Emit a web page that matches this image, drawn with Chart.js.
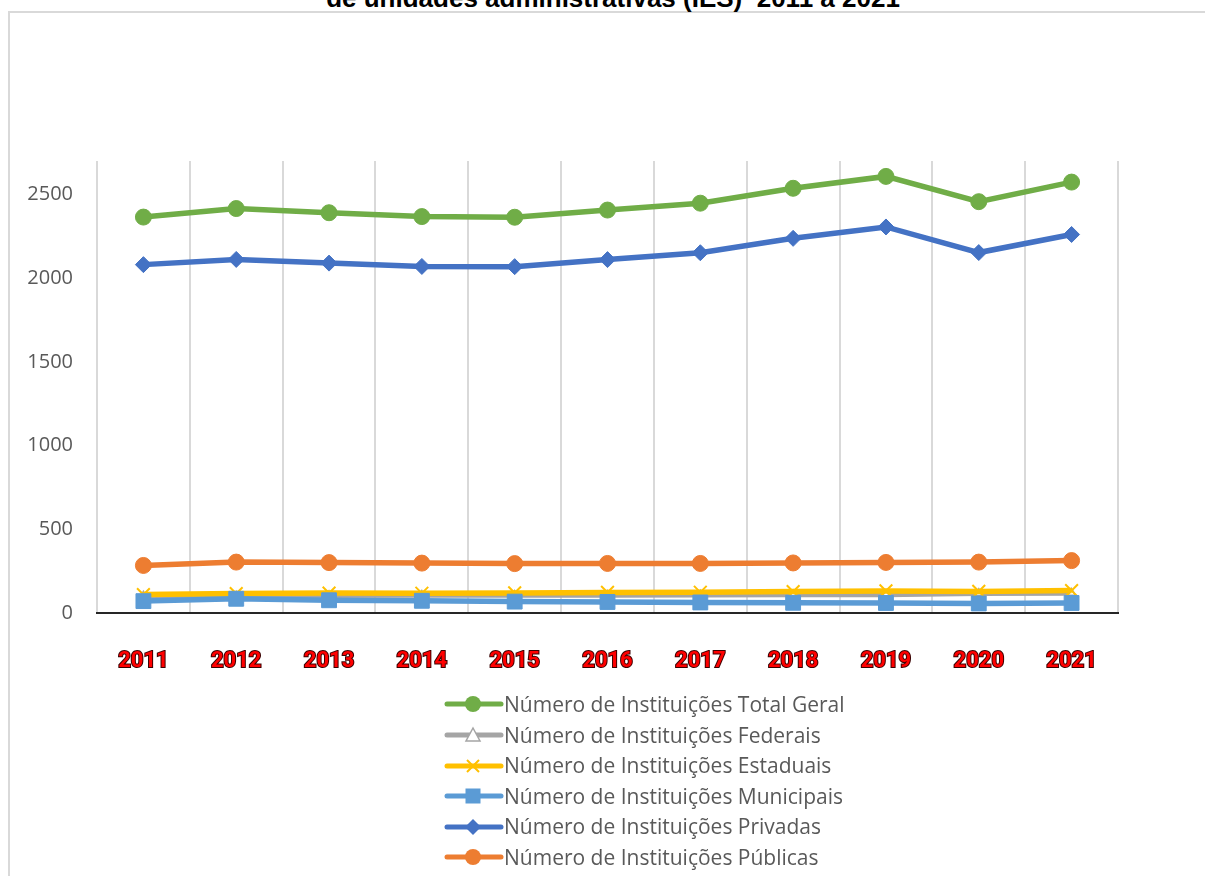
<!DOCTYPE html>
<html>
<head>
    <title>Instituições de Educação Superior 2011 a 2021</title>
    <script src="https://cdn.jsdelivr.net/npm/chart.js"></script>
</head>
<body style="margin: 0; background-color: #ffffff; overflow: hidden;">
    <div style="position: absolute; left: 8px; top: 11px; width: 1300px; height: 900px; border-left: 2px solid #d9d9d9; border-top: 2px solid #d9d9d9;"></div>
    <div id="title" style="position: absolute; left: 0; width: 1226px; top: -15px; text-align: center; font: bold 26px 'Liberation Sans', Arial, sans-serif; line-height: 26px; color: #000000; white-space: pre;">de unidades administrativas (IES)  2011 a 2021</div>
    <div style="position: absolute; left: 0; top: 0; width: 1205px; height: 700px;">
        <canvas id="myChart"></canvas>
    </div>
    <div id="legend" style="position: absolute; left: 444px; top: 687px; font-family: 'Open Sans', sans-serif; font-size: 21px; color: #595959;"></div>

    <script>
        // Values (número de IES por categoria administrativa)
        var years = ['2011', '2012', '2013', '2014', '2015', '2016', '2017', '2018', '2019', '2020', '2021'];
        var totalGeral = [2365, 2416, 2391, 2368, 2364, 2407, 2448, 2537, 2608, 2457, 2574];
        var federais   = [103, 103, 106, 107, 107, 107, 109, 110, 110, 118, 119];
        var estaduais  = [110, 116, 119, 118, 120, 123, 124, 128, 132, 129, 134];
        var municipais = [71, 85, 76, 73, 68, 66, 63, 61, 60, 57, 60];
        var privadas   = [2081, 2112, 2090, 2070, 2069, 2111, 2152, 2238, 2306, 2153, 2261];
        var publicas   = [284, 304, 301, 298, 295, 296, 296, 299, 302, 304, 313];
        var yTickValues = [0, 500, 1000, 1500, 2000, 2500];

        var series = [
            { label: 'Número de Instituições Total Geral', data: totalGeral, color: '#70ad47', style: 'circle', radius: 8, fill: '#70ad47' },
            { label: 'Número de Instituições Federais', data: federais, color: '#a5a5a5', style: 'triangle', radius: 4.5, fill: '#ffffff' },
            { label: 'Número de Instituições Estaduais', data: estaduais, color: '#ffc000', style: 'crossRot', radius: 9, fill: '#ffc000' },
            { label: 'Número de Instituições Municipais', data: municipais, color: '#5b9bd5', style: 'rect', radius: 10.5, fill: '#5b9bd5' },
            { label: 'Número de Instituições Privadas', data: privadas, color: '#4472c4', style: 'rectRot', radius: 8, fill: '#4472c4' },
            { label: 'Número de Instituições Públicas', data: publicas, color: '#ed7d31', style: 'circle', radius: 8, fill: '#ed7d31' }
        ];

        var datasets = series.map(function (s, i) {
            return {
                label: s.label,
                data: s.data,
                borderColor: s.color,
                backgroundColor: s.fill,
                borderWidth: 5.5,
                pointStyle: s.style,
                pointRadius: s.radius,
                pointBackgroundColor: s.fill,
                pointBorderColor: s.color,
                pointBorderWidth: s.style === 'crossRot' ? 2 : (s.style === 'triangle' ? 1.5 : 1),
                tension: 0,
                // first series at the bottom, last on top (as in Excel)
                order: series.length - i
            };
        });

        var ctx = document.getElementById('myChart').getContext('2d');
        var myChart = new Chart(ctx, {
            type: 'line',
            data: { labels: years, datasets: datasets },
            options: {
                responsive: true,
                maintainAspectRatio: false,
                animation: false,
                layout: { padding: { left: 0, top: 161, right: 87, bottom: 0 } },
                plugins: {
                    legend: { display: false },
                    tooltip: { enabled: false }
                },
                scales: {
                    x: {
                        offset: true,
                        grid: {
                            offset: true,
                            color: '#d9d9d9',
                            lineWidth: 2,
                            drawTicks: false,
                            tickLength: 0
                        },
                        border: { display: true, color: '#262626', width: 2 },
                        ticks: {
                            color: '#ff0000',
                            textStrokeColor: '#3a0000',
                            textStrokeWidth: 2,
                            padding: 35,
                            maxRotation: 0,
                            font: { family: "Roboto, 'Liberation Sans', sans-serif", size: 22, weight: 'bold' }
                        },
                        afterFit: function (scale) { scale.height = 87; }
                    },
                    y: {
                        min: 0,
                        max: 2700,
                        grid: { display: false, drawTicks: false, tickLength: 0 },
                        border: { display: false },
                        ticks: {
                            stepSize: 500,
                            color: '#595959',
                            padding: 24,
                            font: { family: "'Open Sans', sans-serif", size: 20 },
                            callback: function (value) { return String(value); }
                        },
                        afterBuildTicks: function (scale) {
                            scale.ticks = yTickValues.map(function (v) { return { value: v }; });
                        },
                        afterFit: function (scale) { scale.width = 97; }
                    }
                }
            }
        });

        // Vertical legend below the chart, one entry per line
        function markerSvg(s) {
            var cx = 29, cy = 15, m = '';
            if (s.style === 'circle') {
                m = '<circle cx="' + cx + '" cy="' + cy + '" r="8" fill="' + s.fill + '"/>';
            } else if (s.style === 'triangle') {
                m = '<polygon points="' + cx + ',' + (cy - 7) + ' ' + (cx + 7) + ',' + (cy + 6) + ' ' + (cx - 7) + ',' + (cy + 6) + '" fill="#ffffff" stroke="' + s.color + '" stroke-width="1.5"/>';
            } else if (s.style === 'crossRot') {
                m = '<path d="M' + (cx - 6) + ' ' + (cy - 6) + 'L' + (cx + 6) + ' ' + (cy + 6) + 'M' + (cx + 6) + ' ' + (cy - 6) + 'L' + (cx - 6) + ' ' + (cy + 6) + '" stroke="' + s.color + '" stroke-width="2"/>';
            } else if (s.style === 'rect') {
                m = '<rect x="' + (cx - 7.5) + '" y="' + (cy - 7.5) + '" width="15" height="15" fill="' + s.fill + '"/>';
            } else if (s.style === 'rectRot') {
                m = '<polygon points="' + cx + ',' + (cy - 8) + ' ' + (cx + 8) + ',' + cy + ' ' + cx + ',' + (cy + 8) + ' ' + (cx - 8) + ',' + cy + '" fill="' + s.fill + '"/>';
            }
            return '<svg width="60" height="30" style="vertical-align: middle;">' +
                '<line x1="3" y1="' + cy + '" x2="57" y2="' + cy + '" stroke="' + s.color + '" stroke-width="5" stroke-linecap="round"/>' +
                m + '</svg>';
        }

        var legendHtml = '';
        series.forEach(function (s) {
            legendHtml += '<div style="height: 30.6px; line-height: 30.6px; white-space: nowrap;">' +
                markerSvg(s) + '<span style="vertical-align: middle;">' + s.label + '</span></div>';
        });
        document.getElementById('legend').innerHTML = legendHtml;
    </script>
</body>
</html>
